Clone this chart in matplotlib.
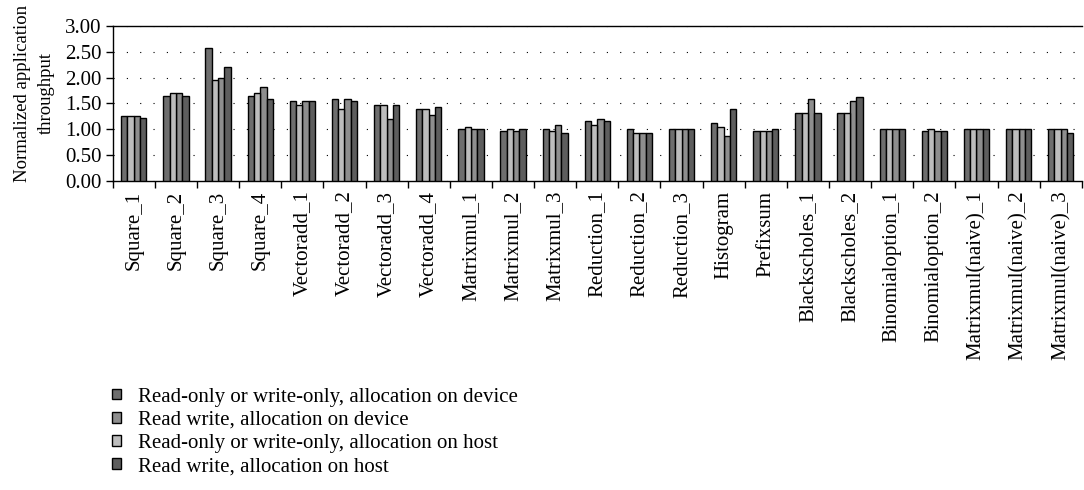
import matplotlib
matplotlib.use("Agg")
import matplotlib.pyplot as plt
import numpy as np

plt.rcParams['font.family'] = ['Liberation Serif', 'DejaVu Serif']

# benchmark names
categories = ["Square_1", "Square_2", "Square_3", "Square_4",
              "Vectoradd_1", "Vectoradd_2", "Vectoradd_3", "Vectoradd_4",
              "Matrixmul_1", "Matrixmul_2", "Matrixmul_3",
              "Reduction_1", "Reduction_2", "Reduction_3",
              "Histogram", "Prefixsum", "Blackscholes_1", "Blackscholes_2",
              "Binomialoption_1", "Binomialoption_2",
              "Matrixmul(naive)_1", "Matrixmul(naive)_2", "Matrixmul(naive)_3"]

# series values
ro_device = [1.25, 1.65, 2.57, 1.65, 1.54, 1.58, 1.46, 1.39, 1.01, 0.97, 1.00,
             1.16, 1.00, 1.00, 1.12, 0.97, 1.31, 1.31, 1.00, 0.97, 1.00, 1.00, 1.00]
rw_device = [1.25, 1.70, 2.00, 1.81, 1.54, 1.58, 1.20, 1.27, 1.01, 0.97, 1.08,
             1.20, 0.93, 1.00, 0.86, 0.97, 1.58, 1.54, 1.00, 0.97, 1.00, 1.00, 1.00]
ro_host = [1.25, 1.70, 1.95, 1.70, 1.46, 1.39, 1.46, 1.39, 1.04, 1.00, 0.97,
           1.08, 0.93, 1.00, 1.04, 0.97, 1.31, 1.31, 1.00, 1.00, 1.00, 1.00, 1.00]
rw_host = [1.21, 1.65, 2.21, 1.58, 1.54, 1.54, 1.46, 1.43, 1.01, 1.00, 0.93,
           1.16, 0.93, 1.00, 1.39, 1.00, 1.31, 1.62, 1.00, 0.97, 1.00, 1.00, 0.93]

labels = ["Read-only or write-only, allocation on device",
          "Read write, allocation on device",
          "Read-only or write-only, allocation on host",
          "Read write, allocation on host"]
series = [ro_device, rw_device, ro_host, rw_host]
colors = ["#6e6e6e", "#8e8e8e", "#bdbdbd", "#5e5e5e"]
slot = [0, 2, 1, 3]  # drawing order inside each group

fig = plt.figure(figsize=(10.84, 4.9), dpi=100)
ax = fig.add_axes([0.104, 0.631, 0.894, 0.316])

x = np.arange(len(categories))
w = 0.15
bars = []
for vals, col, s, lab in zip(series, colors, slot, labels):
    b = ax.bar(x + (s - 1.5) * w, vals, w, color=col, edgecolor="black",
               linewidth=1.0, label=lab, zorder=3)
    bars.append(b)

fs = 15
ax.set_xlim(-0.5, len(categories) - 0.5)
ax.set_ylim(0, 3)
ax.set_yticks(np.arange(0, 3.01, 0.5))
ax.set_yticklabels(["%.2f" % v for v in np.arange(0, 3.01, 0.5)], fontsize=fs)
ax.yaxis.grid(True, linestyle=(0, (1, 11)), color="black", linewidth=0.8)
ax.set_axisbelow(True)

ax.set_xticks(x)
ax.set_xticklabels(categories, rotation=90, fontsize=fs)
ax.tick_params(axis="x", length=0, pad=7)
ax.set_xticks(np.arange(-0.5, len(categories), 1), minor=True)
ax.tick_params(axis="x", which="minor", length=5, direction="out", width=1)
ax.tick_params(axis="y", length=5, direction="out", width=1, pad=3)

ax.spines["right"].set_visible(False)
for sp in ["left", "bottom", "top"]:
    ax.spines[sp].set_linewidth(1.0)

fig.text(0.032, 0.81, "Normalized application\nthroughput", fontsize=13.5,
         rotation=90, ha="center", va="center", multialignment="center",
         linespacing=1.55)

fig.legend(handles=bars, labels=labels, loc="upper left",
           bbox_to_anchor=(0.096, 0.226), frameon=False, fontsize=fs,
           handlelength=0.4, handleheight=0.4, handletextpad=0.85,
           labelspacing=0.2, borderaxespad=0)

fig.savefig("out.png", dpi=100)
